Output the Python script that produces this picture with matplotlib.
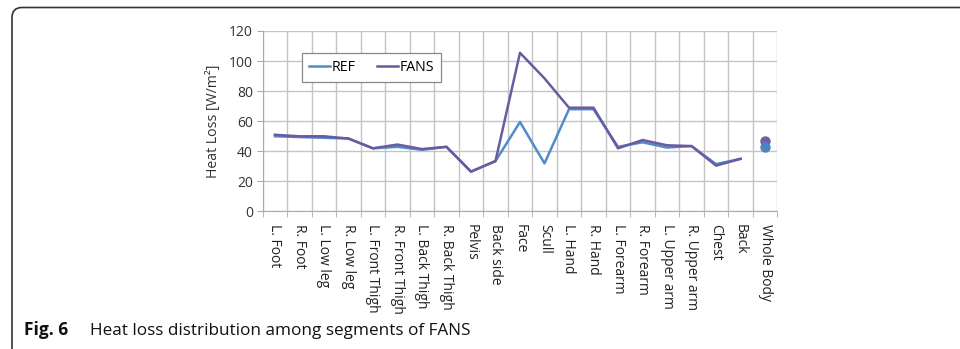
"""
Heat loss per body segment, REF vs FANS, with whole-body values as markers.
"""

import matplotlib.pyplot as plt
from matplotlib.patches import PathPatch
from matplotlib.path import Path
import numpy as np

segments = [
    "L. Foot", "R. Foot", "L. Low leg", "R. Low leg", "L. Front Thigh",
    "R. Front Thigh", "L. Back Thigh", "R. Back Thigh", "Pelvis", "Back side",
    "Face", "Scull", "L. Hand", "R. Hand", "L. Forearm", "R. Forearm",
    "L. Upper arm", "R. Upper arm", "Chest", "Back",
]
whole_body_label = "Whole Body"

ref = [50, 49.5, 49, 48.5, 42, 43, 41, 43, 26.5, 33.5,
       59.5, 32, 68, 68, 43, 46, 42.5, 43.5, 31.5, 35]
fans = [51, 50, 50, 48.5, 42, 44.5, 41.5, 43, 26.5, 33.5,
        105.5, 88.5, 69, 69, 42, 47.5, 44, 43.5, 30.5, 35]
ref_whole = 43
fans_whole = 47

REF_COLOR = "#4f8dc9"
FANS_COLOR = "#6a5b9e"

plt.rcParams["font.family"] = ["Open Sans", "DejaVu Sans"]

fig = plt.figure(figsize=(9.6, 3.49), dpi=100)
ax = fig.add_axes([0.2736, 0.394, 0.5361, 0.5172])

x = np.arange(len(segments))
ax.plot(x, ref, color=REF_COLOR, linewidth=1.8, label="REF")
ax.plot(x, fans, color=FANS_COLOR, linewidth=1.8, label="FANS")
wx = len(segments)
ax.plot([wx], [fans_whole], "o", color="#7a5aa6", markersize=6.5)
ax.plot([wx], [ref_whole], "o", color="#4a86c4", markersize=6.5)

labels = segments + [whole_body_label]
ax.set_xlim(-0.5, len(labels) - 0.5)
ax.set_ylim(0, 120)
ax.set_yticks(range(0, 121, 20))
ax.set_xticks(np.arange(len(labels)))
ax.set_xticklabels(labels, rotation=270, fontsize=10, color="#222222")
ax.set_xticks(np.arange(len(labels) + 1) - 0.5, minor=True)
ax.tick_params(axis="x", which="major", length=0, pad=9)
ax.tick_params(axis="x", which="minor", length=4, color="#aaaaaa")
ax.tick_params(axis="y", length=4, color="#aaaaaa", labelsize=10,
               labelcolor="#333333", pad=3)

ax.grid(True, which="minor", axis="x", color="#c4c4c4", linewidth=1)
ax.grid(True, which="major", axis="y", color="#c4c4c4", linewidth=1)
for side in ("top", "right"):
    ax.spines[side].set_visible(False)
for side in ("left", "bottom"):
    ax.spines[side].set_color("#aaaaaa")
ax.set_axisbelow(True)

ax.set_ylabel("Heat Loss [W/m²]", fontsize=10.2, color="#333333", labelpad=6)

leg = ax.legend(loc="upper left", bbox_to_anchor=(0.062, 0.92), ncol=2,
                fontsize=10.2, handlelength=1.5, handletextpad=0.1,
                columnspacing=1.5, fancybox=False, framealpha=1,
                edgecolor="#888888", borderpad=0.5)
leg.get_frame().set_linewidth(0.9)

# frame: top rule and left rule joined by a rounded corner
W, H = 960, 349
r = 10
x0, y0 = 12, H - 7.5
verts = [(x0, 0), (x0, y0 - r), (x0, y0), (x0 + r, y0), (W, y0)]
codes = [Path.MOVETO, Path.LINETO, Path.CURVE3, Path.CURVE3, Path.LINETO]
verts = [(vx / W, vy / H) for vx, vy in verts]
fig.patches.append(PathPatch(Path(verts, codes), transform=fig.transFigure,
                             fill=False, edgecolor="#333333", linewidth=1.2))

fig.text(24 / W, 1 - 335 / H, "Fig. 6", fontsize=12.5, fontweight="bold",
         color="#111111", va="baseline")
fig.text(90 / W, 1 - 335 / H, "Heat loss distribution among segments of FANS",
         fontsize=12.3, color="#111111", va="baseline")

fig.savefig("out.png", dpi=100)
